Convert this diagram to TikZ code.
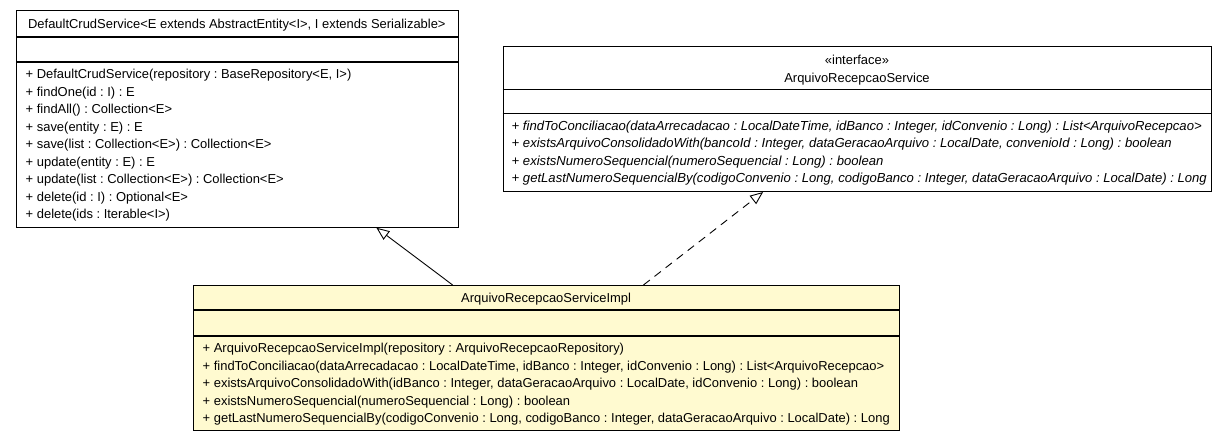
\documentclass[tikz,border=0pt]{standalone}
\usepackage{fontspec}
\setmainfont{Liberation Sans}
\usetikzlibrary{arrows.meta,calc}
\definecolor{implfill}{RGB}{255,250,208}
\newcommand{\umlfont}{\fontsize{12.95}{16}\selectfont\frenchspacing}
\newcommand{\umlitfont}{\fontsize{13.1}{16}\selectfont\frenchspacing\itshape}
\begin{document}
\begin{tikzpicture}[x=1pt,y=-1pt,
  umlbox/.style={draw=black,line width=1pt,rectangle,inner sep=0pt,anchor=north west},
  compsep/.style={line width=1.6pt},
  title/.style={anchor=base,inner sep=0pt,font=\umlfont},
  member/.style={anchor=base west,inner sep=0pt,font=\umlfont},
  abstractmember/.style={anchor=base west,inner sep=0pt,font=\umlitfont},
  generalizes/.style={line width=0.9pt,-{Triangle[open,length=13pt,width=10.5pt]}},
  realizes/.style={line width=0.9pt,dash pattern=on 8pt off 6pt,-{Triangle[open,length=13pt,width=10.5pt]}},
]
\useasboundingbox[fill=white] (0,0) rectangle (1227,440);

% DefaultCrudService
\node[umlbox,minimum width=441.7pt,minimum height=216.7pt] (crud) at (16,10) {};
\draw[compsep] (16,36.7) -- (457.7,36.7);
\draw[compsep] (16,61.7) -- (457.7,61.7);
\node[title] (crudT) at (236.85,28.3) {DefaultCrudService<E extends AbstractEntity<I>, I extends Serializable>};
\node[member] (crudM1) at (25.5,78.8) {+ DefaultCrudService(repository : BaseRepository<E, I>)};
\node[member] (crudM2) at (25.5,96.3) {+ findOne(id : I) : E};
\node[member] (crudM3) at (25.5,113.8) {+ findAll() : Collection<E>};
\node[member] (crudM4) at (25.5,131.3) {+ save(entity : E) : E};
\node[member] (crudM5) at (25.5,148.8) {+ save(list : Collection<E>) : Collection<E>};
\node[member] (crudM6) at (25.5,166.3) {+ update(entity : E) : E};
\node[member] (crudM7) at (25.5,183.8) {+ update(list : Collection<E>) : Collection<E>};
\node[member] (crudM8) at (25.5,201.3) {+ delete(id : I) : Optional<E>};
\node[member] (crudM9) at (25.5,218.8) {+ delete(ids : Iterable<I>)};

% ArquivoRecepcaoService (interface)
\node[umlbox,minimum width=708.6pt,minimum height=145.3pt] (svc) at (502.7,45.7) {};
\draw[compsep] (502.7,89.3) -- (1211.3,89.3);
\draw[compsep] (502.7,113.3) -- (1211.3,113.3);
\node[title] (svcS) at (857,64) {«interface»};
\node[title] (svcT) at (857,82.5) {ArquivoRecepcaoService};
\node[abstractmember] (svcM1) at (511.5,130.4) {+ findToConciliacao(dataArrecadacao : LocalDateTime, idBanco : Integer, idConvenio : Long) : List<ArquivoRecepcao>};
\node[abstractmember] (svcM2) at (511.5,147.9) {+ existsArquivoConsolidadoWith(bancoId : Integer, dataGeracaoArquivo : LocalDate, convenioId : Long) : boolean};
\node[abstractmember] (svcM3) at (511.5,165.4) {+ existsNumeroSequencial(numeroSequencial : Long) : boolean};
\node[abstractmember] (svcM4) at (511.5,182.9) {+ getLastNumeroSequencialBy(codigoConvenio : Long, codigoBanco : Integer, dataGeracaoArquivo : LocalDate) : Long};

% ArquivoRecepcaoServiceImpl
\node[umlbox,fill=implfill,minimum width=705.7pt,minimum height=145pt] (impl) at (193.3,285) {};
\draw[compsep] (193.3,310) -- (899,310);
\draw[compsep] (193.3,335.7) -- (899,335.7);
\node[title] (implT) at (546.15,302) {ArquivoRecepcaoServiceImpl};
\node[member] (implM1) at (202.5,352.8) {+ ArquivoRecepcaoServiceImpl(repository : ArquivoRecepcaoRepository)};
\node[member] (implM2) at (202.5,370.3) {+ findToConciliacao(dataArrecadacao : LocalDateTime, idBanco : Integer, idConvenio : Long) : List<ArquivoRecepcao>};
\node[member] (implM3) at (202.5,387.8) {+ existsArquivoConsolidadoWith(idBanco : Integer, dataGeracaoArquivo : LocalDate, idConvenio : Long) : boolean};
\node[member] (implM4) at (202.5,405.3) {+ existsNumeroSequencial(numeroSequencial : Long) : boolean};
\node[member] (implM5) at (202.5,422.8) {+ getLastNumeroSequencialBy(codigoConvenio : Long, codigoBanco : Integer, dataGeracaoArquivo : LocalDate) : Long};

% inheritance and realization
\draw[generalizes] ($(impl.north west)!0.367!(impl.north east)$) -- ($(crud.south west)!0.814!(crud.south east)$);
\draw[realizes] ($(impl.north west)!0.637!(impl.north east)$) -- ($(svc.south west)!0.367!(svc.south east)$);
\end{tikzpicture}
\end{document}
